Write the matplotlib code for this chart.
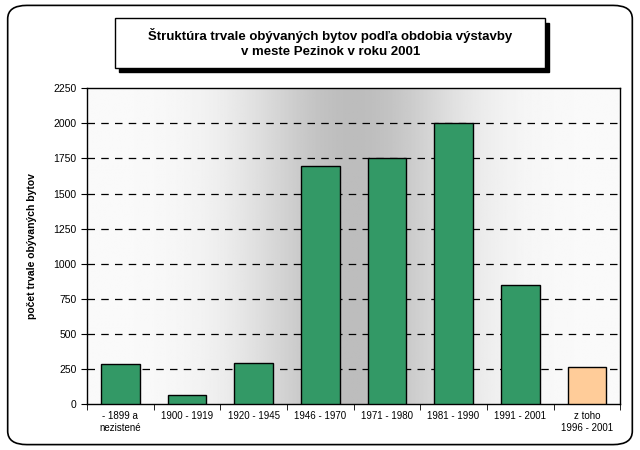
import numpy as np
import matplotlib
matplotlib.use('Agg')
import matplotlib.pyplot as plt
from matplotlib.patches import FancyBboxPatch, Rectangle

plt.rcParams['font.family'] = ['Liberation Sans', 'DejaVu Sans']

categories = ['- 1899 a\nnezistené', '1900 - 1919', '1920 - 1945', '1946 - 1970',
              '1971 - 1980', '1981 - 1990', '1991 - 2001', 'z toho\n1996 - 2001']
values = [285, 65, 292, 1695, 1750, 2000, 848, 265]
colors = ['#339966'] * 7 + ['#FFCC99']

fig = plt.figure(figsize=(6.4, 4.5), dpi=100)

# outer rounded frame
frame = FancyBboxPatch((0.012, 0.012), 0.976, 0.976, boxstyle='round,pad=0,rounding_size=0.03',
                       transform=fig.transFigure, fill=False, ec='black', lw=1.2)
fig.patches.append(frame)

ax = fig.add_axes([0.136, 0.102, 0.833, 0.702])

# horizontal gradient background: light at edges, gray in the middle
xs = np.linspace(0, 1, 400)
g = 0.98 - 0.24 * np.exp(-((xs - 0.5) / 0.2) ** 2)
grad = np.tile(g, (2, 1))
ax.imshow(grad, cmap='gray', vmin=0, vmax=1, aspect='auto',
          extent=[-0.5, len(categories) - 0.5, 0, 2250], zorder=0)

x = np.arange(len(categories))
ax.bar(x, values, width=0.58, color=colors, edgecolor='black', linewidth=1, zorder=3)

ax.set_xlim(-0.5, len(categories) - 0.5)
ax.set_ylim(0, 2250)
ax.set_yticks(np.arange(0, 2251, 250))
for yv in np.arange(250, 2001, 250):
    ax.axhline(yv, color='black', lw=0.9, ls=(0, (6, 5)), zorder=1)

ax.set_xticks(x)
ax.set_xticklabels(categories, fontsize=7)
ax.set_xticks(np.arange(-0.5, len(categories), 1), minor=True)
ax.tick_params(axis='x', which='major', length=0, pad=5)
ax.tick_params(axis='x', which='minor', length=4, direction='out')
ax.tick_params(axis='y', labelsize=7.5, length=4, direction='out')
for s in ax.spines.values():
    s.set_linewidth(1)

ax.set_ylabel('počet trvale obývaných bytov', fontsize=7.5, fontweight='bold', labelpad=12)

# title box with shadow
fig.patches.append(Rectangle((0.186, 0.840), 0.672, 0.110, transform=fig.transFigure,
                             fc='black', ec='black', zorder=1))
fig.patches.append(Rectangle((0.180, 0.850), 0.672, 0.110, transform=fig.transFigure,
                             fc='white', ec='black', lw=1, zorder=2))
fig.text(0.516, 0.905, 'Štruktúra trvale obývaných bytov podľa obdobia výstavby\nv meste Pezinok v roku 2001',
         ha='center', va='center', fontsize=9.5, fontweight='bold', linespacing=1.3, zorder=3)

fig.savefig('out.png', dpi=100)
